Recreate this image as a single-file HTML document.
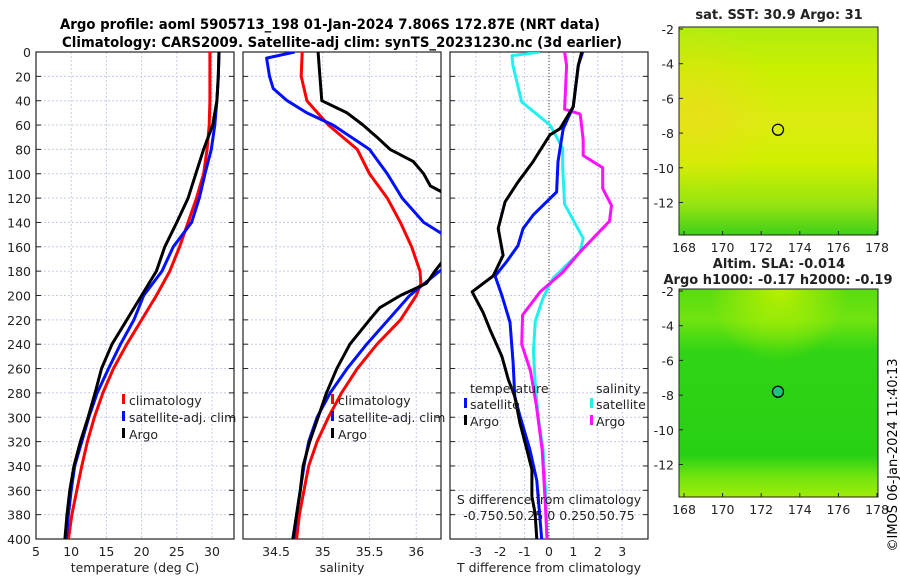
<!DOCTYPE html>
<html><head><meta charset="utf-8">
<style>
html,body{margin:0;padding:0;background:#fff;}
svg{display:block;font-family:"DejaVu Sans","Liberation Sans",sans-serif;}
</style></head>
<body>
<svg id="fig" width="900" height="580" viewBox="0 0 900 580" xmlns="http://www.w3.org/2000/svg">
<defs>
<clipPath id="c1"><rect x="36" y="52" width="198" height="487"/></clipPath>
<clipPath id="c2"><rect x="243" y="52" width="198" height="487"/></clipPath>
<clipPath id="c3"><rect x="450" y="52" width="198" height="487"/></clipPath>
<linearGradient id="sstg" x1="0" y1="0" x2="0" y2="1">
<stop offset="0" stop-color="#b0ec10"/><stop offset="0.2" stop-color="#c8f000"/><stop offset="0.45" stop-color="#dcec10"/><stop offset="0.65" stop-color="#d0f000"/><stop offset="0.85" stop-color="#98e410"/><stop offset="1" stop-color="#40d018"/>
</linearGradient>
<linearGradient id="slag" x1="0" y1="0" x2="0" y2="1">
<stop offset="0" stop-color="#58dc10"/><stop offset="0.15" stop-color="#70e410"/><stop offset="0.3" stop-color="#30d414"/><stop offset="0.8" stop-color="#28d014"/><stop offset="0.9" stop-color="#70e410"/><stop offset="1" stop-color="#a0ec08"/>
</linearGradient>
<radialGradient id="slatop" cx="0.5" cy="0" r="0.35"><stop offset="0" stop-color="#b8f000"/><stop offset="1" stop-color="#b8f000" stop-opacity="0"/></radialGradient>
<radialGradient id="sstleft" cx="0.1" cy="0.4" r="0.4"><stop offset="0" stop-color="#f0d820" stop-opacity="0.6"/><stop offset="1" stop-color="#f0d820" stop-opacity="0"/></radialGradient>
</defs>
<text x="330" y="29" text-anchor="middle" font-size="14" font-weight="bold" textLength="540" lengthAdjust="spacingAndGlyphs">Argo profile: aoml 5905713_198 01-Jan-2024 7.806S 172.87E (NRT data)</text>
<text x="342" y="47" text-anchor="middle" font-size="14" font-weight="bold" textLength="560" lengthAdjust="spacingAndGlyphs">Climatology: CARS2009. Satellite-adj clim: synTS_20231230.nc (3d earlier)</text>
<g id="root"></g>
<text transform="translate(897,455) rotate(-90)" text-anchor="middle" font-size="13">©IMOS 06-Jan-2024 11:40:13</text>
</svg>
<script>
// ---- data ----
const depths = [0,20,40,60,80,100,120,140,160,180,200,220,240,260,280,300,320,340,360,380,400];
const tempClim = [29.7,29.7,29.7,29.6,29.3,28.8,27.8,26.6,25.4,24.0,22.1,20.0,17.9,16.0,14.5,13.3,12.3,11.5,10.8,10.1,9.6];
const tempSat  = [31.0,30.9,30.7,30.4,29.9,29.0,28.2,27.1,24.5,22.9,20.3,18.9,17.0,15.3,13.7,12.5,11.5,10.5,10.0,9.6,9.3];
const tempArgo = [31.0,30.9,30.7,30.1,28.8,27.7,26.6,25.0,23.3,22.1,20.0,17.9,15.8,14.3,13.4,12.4,11.3,10.4,9.8,9.4,9.1];
const salClimDepth = [0,20,40,60,80,100,120,140,160,180,190,200,220,240,260,280,300,320,340,360,380,400];
const salClim = [34.78,34.77,34.83,35.06,35.37,35.5,35.69,35.83,35.95,36.04,36.05,36.0,35.83,35.58,35.37,35.2,35.06,34.94,34.85,34.8,34.75,34.72];
const salSatDepth = [0,5,20,30,40,50,60,80,100,120,140,160,170,180,200,220,240,260,280,300,320,340,360,380,400];
const salSat = [34.7,34.4,34.43,34.47,34.62,34.83,35.11,35.5,35.69,35.85,36.08,36.5,36.5,36.25,35.93,35.7,35.47,35.26,35.08,34.94,34.85,34.8,34.76,34.72,34.69];
const salArgoDepth = [0,20,40,50,60,70,80,90,100,110,120,140,160,170,180,190,200,210,220,240,260,280,300,320,340,360,380,400];
const salArgo = [34.95,34.97,34.99,35.26,35.43,35.58,35.72,35.97,36.08,36.15,36.4,36.5,36.5,36.3,36.2,36.11,35.83,35.61,35.5,35.29,35.15,35.04,34.95,34.86,34.79,34.76,34.72,34.68];
const dTArgoDepth = [0,11,45,63,68,81,90,107,123,145,167,184,197,214,228,250,269,283,305,327,343,365,379,400];
const dTArgo = [1.34,1.2,0.99,0.45,0.04,-0.37,-0.65,-1.28,-1.8,-2.08,-1.88,-2.29,-3.15,-2.7,-2.42,-1.93,-1.67,-1.4,-1.19,-0.9,-0.7,-0.7,-0.57,-0.5];
const dTSatDepth = [0,11,45,63,90,115,134,145,159,172,184,200,222,255,283,299,327,352,400];
const dTSat = [1.38,1.2,0.99,0.58,0.37,0.31,-0.65,-1.06,-1.27,-1.73,-2.21,-1.93,-1.6,-1.47,-1.4,-1.19,-0.78,-0.5,-0.3];
const dSSatDepth = [0,3,11,41,60,79,95,125,153,164,186,202,221,246,273,300,327,368,400];
const dSSat = [-0.092,-0.38,-0.37,-0.28,0.01,0.14,0.14,0.16,0.35,0.32,0.04,-0.06,-0.14,-0.16,-0.14,-0.11,-0.06,-0.03,-0.02];
const dSArgoDepth = [0,11,47,51,72,85,95,112,126,139,164,181,197,216,240,262,290,327,368,400];
const dSArgo = [0.16,0.18,0.16,0.32,0.35,0.35,0.55,0.55,0.64,0.62,0.32,0.14,-0.09,-0.27,-0.28,-0.19,-0.13,-0.07,-0.04,-0.02];
const depthTicks = [0,20,40,60,80,100,120,140,160,180,200,220,240,260,280,300,320,340,360,380,400];
const tempTicks = [5,10,15,20,25,30];
const salTicks = [34.5,35,35.5,36];
const dTTicks = [-3,-2,-1,0,1,2,3];
const latTicks = [-2,-4,-6,-8,-10,-12];
const lonTicks = [168,170,172,174,176,178];

// ---- helpers ----
const NS = "http://www.w3.org/2000/svg";
const root = document.getElementById('root');
function mk(tag, attrs, parent){ const e=document.createElementNS(NS,tag); for(const k in attrs) e.setAttribute(k,attrs[k]); (parent||root).appendChild(e); return e; }
const Y0=52, Y1=539;
const yD = d => Y0 + d*(Y1-Y0)/400;
const xT = t => 36 + (t-5)*7.04;
const xS = s => 276 + (s-34.5)*93.5;
const xDT = t => 549 + t*24.4;
const xDS = s => 549 + s*97.6;
const FS = 12.5;

function panel(x0, name, ticks, fx, showDepthLabels){
  const g = mk('g',{});
  
  
  ticks.forEach(t=>{ mk('line',{x1:fx(t),x2:fx(t),y1:Y0,y2:Y1,stroke:'#c4cce6','stroke-width':1,'stroke-dasharray':'2,2'},g); });
  depthTicks.forEach(d=>{
    mk('line',{x1:x0,x2:x0+198,y1:yD(d),y2:yD(d),stroke:'#c4cce6','stroke-width':1,'stroke-dasharray':'2,2'},g);
    mk('line',{x1:x0,x2:x0+5,y1:yD(d),y2:yD(d),stroke:'#222'},g);
    mk('line',{x1:x0+193,x2:x0+198,y1:yD(d),y2:yD(d),stroke:'#222'},g);
    if(showDepthLabels){ const t=mk('text',{x:31,y:yD(d)+5,'text-anchor':'end','font-size':FS,fill:'#222'},g); t.textContent=d;
        }
  });
  mk('rect',{x:x0,y:Y0,width:198,height:Y1-Y0,fill:'none',stroke:'#222','stroke-width':1.2},g);
  return g;
}
function series(xs, ds, fx, color, clip, name, w){
  const pts = xs.map((v,i)=>fx(v).toFixed(1)+','+yD(ds[i]).toFixed(1)).join(' ');
  const p = mk('polyline',{points:pts,fill:'none',stroke:color,'stroke-width':w||3,'clip-path':'url(#'+clip+')','stroke-linejoin':'round'});
  
  
}
function txt(x,y,s,size,anchor,name,extra){
  const t=mk('text',Object.assign({x:x,y:y,'font-size':size,'text-anchor':anchor||'start',fill:'#222'},extra||{}));
  t.textContent=s;
  
  
  return t;
}

// ---- panel 1: temperature ----
panel(36,'temperature-panel',tempTicks,xT,true);
tempTicks.forEach(t=>txt(xT(t),556,t,FS,'middle','temp-tick-label'));
txt(135,572,'temperature (deg C)',FS,'middle','temp-axis-title');
series(tempClim,depths,xT,'#ff0000','c1','temp-climatology-line');
series(tempSat,depths,xT,'#0010ff','c1','temp-satellite-line');
series(tempArgo,depths,xT,'#000','c1','temp-argo-line');
[['climatology','#ff0000',405],['satellite-adj. clim','#0010ff',422],['Argo','#000',439]].forEach(l=>{
  mk('rect',{x:122,y:l[2]-11,width:3,height:10,fill:l[1]});
  txt(129,l[2],l[0],FS,'start','temp-legend-entry');
});

// ---- panel 2: salinity ----
panel(243,'salinity-panel',salTicks,xS,false);
salTicks.forEach(t=>txt(xS(t),556,t,FS,'middle','sal-tick-label'));
txt(342,572,'salinity',FS,'middle','sal-axis-title');
series(salClim,salClimDepth,xS,'#ff0000','c2','sal-climatology-line');
series(salSat,salSatDepth,xS,'#0010ff','c2','sal-satellite-line');
series(salArgo,salArgoDepth,xS,'#000','c2','sal-argo-line');
[['climatology','#ff0000',405],['satellite-adj. clim','#0010ff',422],['Argo','#000',439]].forEach(l=>{
  mk('rect',{x:331,y:l[2]-11,width:3,height:10,fill:l[1]});
  txt(338,l[2],l[0],FS,'start','sal-legend-entry');
});

// ---- panel 3: differences ----
panel(450,'difference-panel',dTTicks,xDT,false);
mk('line',{x1:549,x2:549,y1:Y0,y2:Y1,stroke:'#444','stroke-dasharray':'1,2'});
dTTicks.forEach(t=>txt(xDT(t),556,t,FS,'middle','dT-tick-label'));
txt(549,572,'T difference from climatology',FS,'middle','dT-axis-title');
series(dSSat,dSSatDepth,xDS,'#20f0f0','c3','dS-satellite-line');
series(dSArgo,dSArgoDepth,xDS,'#ff10ff','c3','dS-argo-line');
series(dTSat,dTSatDepth,xDT,'#0010ff','c3','dT-satellite-line');
series(dTArgo,dTArgoDepth,xDT,'#000','c3','dT-argo-line');
txt(470,393,'temperature',FS,'start','diff-legend-temp-header');
txt(596,393,'salinity',FS,'start','diff-legend-sal-header');
[['satellite','#0010ff',464,409],['Argo','#000',464,426],['satellite','#20f0f0',590,409],['Argo','#ff10ff',590,426]].forEach(l=>{
  mk('rect',{x:l[2],y:l[3]-11,width:3,height:10,fill:l[1]});
  txt(l[2]+6,l[3],l[0],FS,'start','diff-legend-entry');
});
txt(549,504,'S difference from climatology',FS,'middle','dS-axis-title');
txt(549,520,'-0.750.50.25 0  0.250.50.75',FS,'middle','dS-tick-labels');

// ---- maps ----
function map(y0,h,name,grad,extra,fillCircle){
  const g=mk('g',{});
  
  
  mk('rect',{x:679,y:y0,width:199,height:h,fill:'url(#'+grad+')'},g);
  mk('rect',{x:679,y:y0,width:199,height:h,fill:'url(#'+extra+')'},g);
  const yl = lat => y0+2 + (-2-lat)*17.35;
  const xl = lon => 684 + (lon-168)*19.3;
  latTicks.forEach(l=>{ mk('line',{x1:679,x2:683,y1:yl(l),y2:yl(l),stroke:'#222'},g);
    txt(674,yl(l)+5,l,FS,'end','map-lat-label'); });
  lonTicks.forEach(l=>{ mk('line',{x1:xl(l),x2:xl(l),y1:y0+h,y2:y0+h-4,stroke:'#222'},g);
    txt(xl(l),y0+h+17,l,FS,'middle','map-lon-label'); });
  mk('rect',{x:679,y:y0,width:199,height:h,fill:'none',stroke:'#222'},g);
  const c=mk('circle',{cx:xl(172.87),cy:yl(-7.806),r:5.5,fill:fillCircle,stroke:'#000','stroke-width':1.3},g);
  
  
}
map(27,208,'sst-map','sstg','sstleft','none');
map(289,208,'sla-map','slag','slatop','#20c080');
txt(779,19,'sat. SST: 30.9 Argo: 31',13,'middle','sst-map-title',{'font-weight':'bold'});
txt(779,268,'Altim. SLA: -0.014',13,'middle','sla-map-title',{'font-weight':'bold'});
txt(778,284,'Argo h1000: -0.17 h2000: -0.19',13,'middle','sla-map-subtitle',{'font-weight':'bold'});
</script>
</body></html>
